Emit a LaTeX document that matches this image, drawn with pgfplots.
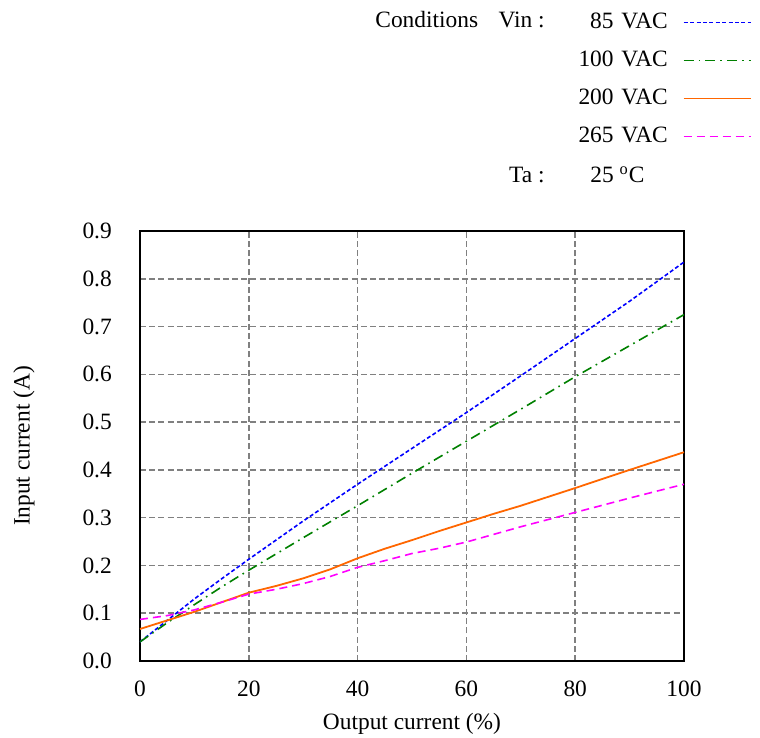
\documentclass[border=0pt]{standalone}
\usepackage{pgfplots}
\pgfplotsset{compat=1.18}
\usepackage{fontspec}
\setmainfont{Liberation Serif}
\definecolor{cblue}{RGB}{0,0,255}
\definecolor{cgreen}{RGB}{0,128,0}
\definecolor{corange}{RGB}{255,102,0}
\definecolor{cmag}{RGB}{255,0,255}
\begin{document}
\fontsize{11.7}{14}\selectfont
\begin{tikzpicture}
\useasboundingbox (-70pt,-38.5pt) rectangle (310pt,330.5pt);
\begin{axis}[
  at={(0pt,0pt)}, anchor=south west,
  scale only axis, width=272pt, height=215pt,
  xmin=0, xmax=100, ymin=0, ymax=0.9,
  xtick={0,20,...,100}, ytick={0,0.1,...,0.9},
  /pgf/number format/assume math mode=true,
  yticklabel style={xshift=-10pt, /pgf/number format/.cd,fixed,fixed zerofill,precision=1},
  xticklabel style={yshift=-6pt},
  tick label style={font=\fontsize{11.7}{14}\selectfont, black},
  label style={font=\fontsize{11.7}{14}\selectfont},
  major tick length=0pt,
  grid=major,
  major grid style={gray, line width=0.75pt, dash pattern=on 3pt off 1.6pt},
  axis line style={black, line width=1pt},
  xlabel={Output current (\%)}, ylabel={Input current (A)},
  xlabel style={yshift=0pt},
  ylabel style={yshift=16pt},
  legend plot pos=right,
  legend cell align=right,
  legend image code/.code={\draw[#1] (0pt,0pt) -- (33.5pt,0pt);},
  legend style={at={(1.125,1.509)}, anchor=north east, draw=none, fill=none,
    inner sep=0pt, row sep=9pt, column sep=7.5pt,
    font=\fontsize{11.7}{14}\selectfont,
    nodes={inner sep=0pt, text height=8pt, text depth=2pt}},
]
\addplot[cblue, line width=0.8pt, dash pattern=on 2pt off 1.2pt] coordinates {
(0,0.040) (5,0.085) (10,0.130) (15,0.172) (20,0.213) (30,0.293) (40,0.370) (50,0.445) (60,0.520) (70,0.597) (80,0.675) (90,0.753) (100,0.835)};
\addlegendentry{85\,\,VAC}
\addplot[cgreen, line width=0.8pt, dash pattern=on 5pt off 2.5pt on 0.8pt off 2.5pt] coordinates {
(0,0.040) (5,0.080) (10,0.118) (15,0.155) (20,0.190) (30,0.258) (40,0.325) (50,0.393) (60,0.460) (70,0.527) (80,0.595) (90,0.660) (100,0.725)};
\addlegendentry{100\,\,VAC}
\addplot[corange, line width=0.9pt] coordinates {
(0,0.067) (5,0.085) (10,0.103) (15,0.123) (20,0.143) (25,0.157) (30,0.173) (35,0.192) (40,0.215) (45,0.235) (50,0.253) (55,0.272) (60,0.290) (65,0.308) (70,0.325) (80,0.362) (90,0.400) (100,0.437)};
\addlegendentry{200\,\,VAC}
\addplot[cmag, line width=0.8pt, dash pattern=on 4pt off 2.5pt] coordinates {
(0,0.087) (5,0.095) (10,0.107) (15,0.123) (20,0.140) (25,0.150) (30,0.162) (35,0.177) (40,0.196) (45,0.210) (50,0.225) (55,0.236) (60,0.249) (65,0.265) (70,0.281) (80,0.311) (90,0.341) (100,0.370)};
\addlegendentry{265\,\,VAC}
\end{axis}
\node[anchor=base west, inner sep=0pt] at (117.5pt,316.5pt) {Conditions};
\node[anchor=base east, inner sep=0pt] at (202.5pt,316.5pt) {Vin :};
\node[anchor=base east, inner sep=0pt] at (202.5pt,239pt) {Ta :};
\node[anchor=base west, inner sep=0pt] at (225pt,239pt) {25 \textsuperscript{o}C};
\end{tikzpicture}
\end{document}
